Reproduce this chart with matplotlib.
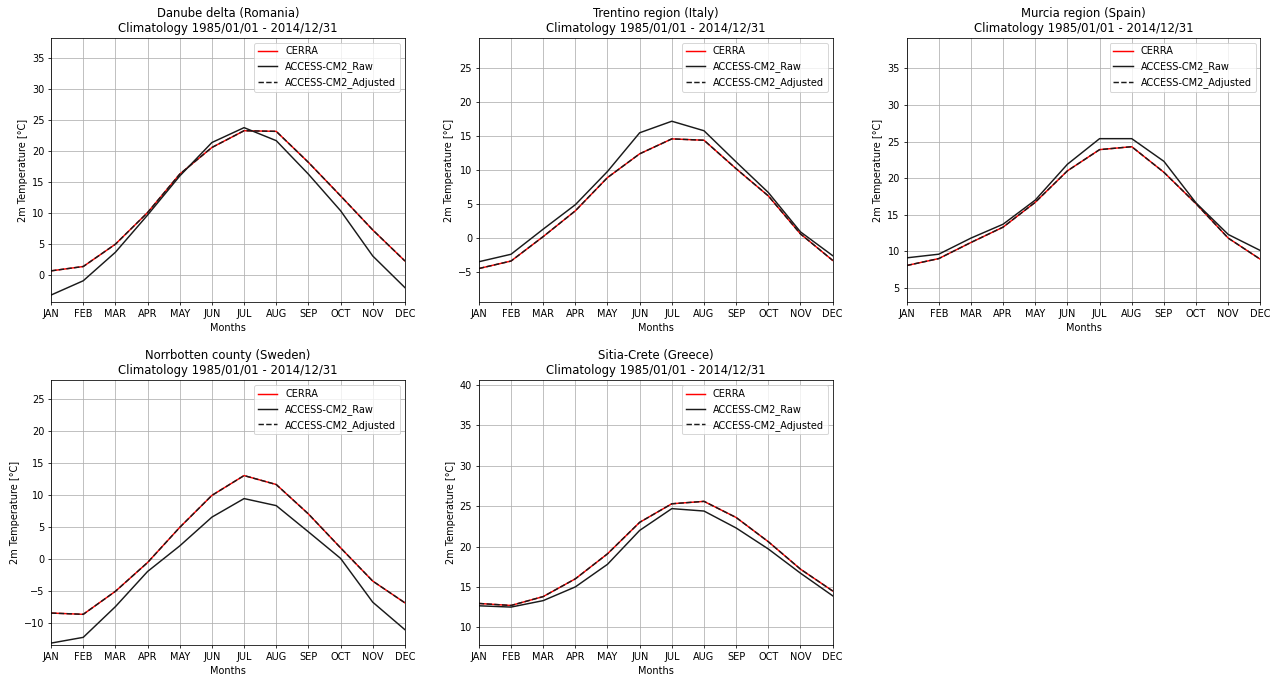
import numpy as np
import matplotlib
matplotlib.use("Agg")
import matplotlib.pyplot as plt

MONTHS = ["JAN", "FEB", "MAR", "APR", "MAY", "JUN", "JUL", "AUG", "SEP", "OCT", "NOV", "DEC"]
PERIOD = "Climatology 1985/01/01 - 2014/12/31"

regions = ["Danube delta (Romania)", "Trentino region (Italy)", "Murcia region (Spain)",
           "Norrbotten county (Sweden)", "Sitia-Crete (Greece)"]

# CERRA reference climatology
cerra_danube = [0.7, 1.4, 5.0, 10.1, 16.3, 20.6, 23.3, 23.2, 18.2, 12.8, 7.3, 2.3]
cerra_trentino = [-4.5, -3.4, 0.2, 4.0, 8.9, 12.4, 14.6, 14.4, 10.2, 6.2, 0.6, -3.3]
cerra_murcia = [8.05, 9.0, 11.2, 13.3, 16.7, 21.0, 23.9, 24.3, 20.8, 16.5, 11.8, 8.9]
cerra_norrbotten = [-8.5, -8.7, -5.1, -0.6, 4.9, 9.9, 13.0, 11.6, 7.0, 1.7, -3.5, -6.9]
cerra_sitia = [12.95, 12.7, 13.8, 16.0, 19.1, 23.0, 25.3, 25.6, 23.6, 20.6, 17.2, 14.5]

# raw model
raw_danube = [-3.2, -0.9, 3.7, 9.7, 16.0, 21.4, 23.8, 21.7, 16.3, 10.4, 3.1, -2.0]
raw_trentino = [-3.5, -2.4, 1.3, 4.9, 9.8, 15.5, 17.2, 15.8, 11.2, 6.7, 0.9, -2.6]
raw_murcia = [9.1, 9.6, 11.8, 13.7, 17.0, 21.9, 25.4, 25.4, 22.3, 16.6, 12.3, 10.1]
raw_norrbotten = [-13.2, -12.3, -7.5, -2.0, 2.0, 6.5, 9.4, 8.3, 4.2, 0.05, -6.8, -11.1]
raw_sitia = [12.66, 12.5, 13.3, 15.0, 17.8, 22.0, 24.7, 24.4, 22.3, 19.7, 16.7, 13.9]

# bias adjusted model (practically on top of CERRA)
adj_danube = [0.7, 1.4, 5.0, 10.1, 16.3, 20.6, 23.3, 23.2, 18.2, 12.8, 7.3, 2.3]
adj_trentino = [-4.5, -3.4, 0.2, 4.0, 8.9, 12.4, 14.6, 14.4, 10.2, 6.2, 0.6, -3.3]
adj_murcia = [8.05, 9.0, 11.2, 13.3, 16.7, 21.0, 23.9, 24.3, 20.8, 16.5, 11.8, 8.9]
adj_norrbotten = [-8.5, -8.7, -5.1, -0.6, 4.9, 9.9, 13.0, 11.6, 7.0, 1.7, -3.5, -6.9]
adj_sitia = [12.95, 12.7, 13.8, 16.0, 19.1, 23.0, 25.3, 25.6, 23.6, 20.6, 17.2, 14.5]

y_limits = [(-4.4, 38.3), (-9.5, 29.5), (3.0, 39.2), (-13.5, 27.9), (7.8, 40.6)]

cerra_all = [cerra_danube, cerra_trentino, cerra_murcia, cerra_norrbotten, cerra_sitia]
raw_all = [raw_danube, raw_trentino, raw_murcia, raw_norrbotten, raw_sitia]
adj_all = [adj_danube, adj_trentino, adj_murcia, adj_norrbotten, adj_sitia]

DPI = 70
fig, axs = plt.subplots(2, 3, figsize=(1277 / DPI, 674 / DPI), dpi=DPI)
plt.subplots_adjust(left=0.040, right=0.987, top=0.944, bottom=0.043, wspace=0.209, hspace=0.294)
axs = axs.flatten()

x = np.arange(len(MONTHS))
for i, region in enumerate(regions):
    ax = axs[i]
    ax.plot(x, cerra_all[i], color="red", label="CERRA")
    ax.plot(x, raw_all[i], color="#1a1a1a", label="ACCESS-CM2_Raw")
    ax.plot(x, adj_all[i], color="#1a1a1a", linestyle="--", label="ACCESS-CM2_Adjusted")
    ax.set_xticks(x)
    ax.set_xticklabels(MONTHS)
    ax.set_xlim(0, 11)
    ax.set_ylim(*y_limits[i])
    ax.set_title(region + "\n" + PERIOD)
    ax.set_xlabel("Months")
    ax.set_ylabel("2m Temperature [°C]")
    ax.grid(True)
    ax.legend(loc="upper right")

axs[5].axis("off")

fig.savefig("out.png", dpi=DPI)
